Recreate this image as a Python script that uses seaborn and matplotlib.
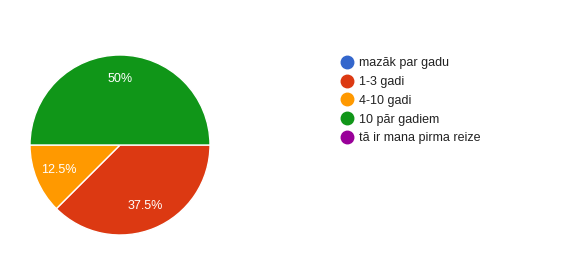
import matplotlib
matplotlib.use("Agg")
import matplotlib.pyplot as plt
from matplotlib.lines import Line2D
import seaborn as sns

categories = ["mazāk par gadu", "1-3 gadi", "4-10 gadi", "10 pār gadiem", "tā ir mana pirma reize"]
values = [0, 37.5, 12.5, 50, 0]
colors = ["#3366cc", "#dc3912", "#ff9900", "#109618", "#990099"]

sns.set_theme(style="white")
plt.rcParams["font.family"] = ["Liberation Sans", "DejaVu Sans"]

fig = plt.figure(figsize=(5.64, 2.62), dpi=100)
ax = fig.add_axes([30 / 564, (262 - 235) / 262, 180 / 564, 180 / 262])

pv = [v for v in values if v > 0]
pc = [c for v, c in zip(values, colors) if v > 0]
wedges, texts, autotexts = ax.pie(
    pv, colors=pc, startangle=0, counterclock=False,
    autopct=lambda p: f"{p:g}%", pctdistance=0.73,
    wedgeprops=dict(edgecolor="white", linewidth=1),
    textprops=dict(color="white", fontsize=9),
)
ax.set_aspect("equal")
ax.set_xlim(-1, 1)
ax.set_ylim(-1, 1)

handles = [Line2D([0], [0], marker="o", linestyle="", markersize=9,
                  markerfacecolor=c, markeredgecolor=c) for c in colors]
fig.legend(handles, categories, loc="upper left", bbox_to_anchor=(333 / 564, 1 - 52 / 262),
           frameon=False, fontsize=9, handletextpad=0.2, labelspacing=0.55,
           borderaxespad=0, handlelength=1.5, labelcolor="#222222")

fig.savefig("out.png", dpi=100)
